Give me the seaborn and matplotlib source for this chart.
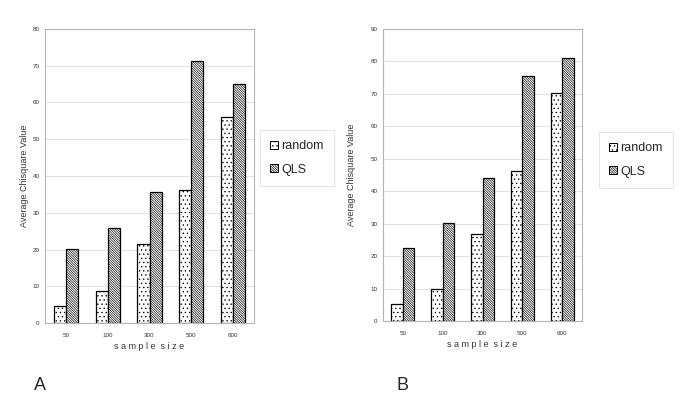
import pandas as pd
import seaborn as sns
import matplotlib
matplotlib.use("Agg")
import matplotlib.pyplot as plt
from matplotlib.patches import Patch

sample_sizes = ["50", "100", "300", "500", "600"]
series_names = ["random", "QLS"]
random_a = [4.6, 8.7, 21.5, 36.1, 56.1]
qls_a = [20.1, 25.8, 35.7, 71.2, 64.9]
random_b = [5.3, 10.0, 26.8, 46.2, 70.4]
qls_b = [22.4, 30.1, 44.1, 75.4, 81.2]

sns.set_style("white")
plt.rcParams["font.family"] = ["Liberation Sans", "DejaVu Sans"]
plt.rcParams["hatch.linewidth"] = 0.45

DOTS = "...."
LINES = "\\" * 14

fig = plt.figure(figsize=(6.85, 4.07), dpi=100)

panels = [
    ("A", random_a, qls_a, 80, [45, 29, 254, 323], [263, 133, 331, 183], 40, 29),
    ("B", random_b, qls_b, 90, [383, 29, 582, 321], [599, 130, 673, 190], 403, 356),
]
W, H = 685, 407

for letter, rnd, qls, ymax, box, leg_box, letter_x, ylab_x in panels:
    x0, y0, x1, y1 = box
    ax = fig.add_axes([x0 / W, 1 - y1 / H, (x1 - x0) / W, (y1 - y0) / H])
    df = pd.DataFrame({
        "sample size": sample_sizes * 2,
        "value": rnd + qls,
        "series": [series_names[0]] * 5 + [series_names[1]] * 5,
    })
    sns.barplot(data=df, x="sample size", y="value", hue="series",
                order=sample_sizes, hue_order=series_names,
                palette=["white", "white"], width=0.58, ax=ax,
                edgecolor="black", linewidth=0.9, legend=False, saturation=1)
    for i, bar in enumerate(ax.patches):
        bar.set_hatch(DOTS if i < 5 else LINES)
        bar.set_edgecolor("black")
    ax.set_ylim(0, ymax)
    ax.set_yticks(range(0, ymax + 1, 10))
    ax.set_xlim(-0.5, 4.5)
    ax.yaxis.grid(True, color="#e3e3e3", linewidth=0.8)
    ax.set_axisbelow(True)
    for s in ax.spines.values():
        s.set_color("#b5b5b5")
        s.set_linewidth(0.8)
    ax.tick_params(axis="both", labelsize=4.5, length=0, colors="#333333")
    ax.tick_params(axis="y", pad=4)
    ax.tick_params(axis="x", pad=7)
    ax.set_xlabel("s a m p l e  s i z e", fontsize=6.5, color="#333333", labelpad=3)
    ax.set_ylabel("Average Chisquare Value", fontsize=6.5, color="#333333")
    ax.yaxis.set_label_coords(-(x0 - ylab_x) / (x1 - x0), 0.5)

    lx0, ly0, lx1, ly1 = leg_box
    handles = [
        Patch(facecolor="white", edgecolor="black", hatch=DOTS, linewidth=0.7, label="random"),
        Patch(facecolor="white", edgecolor="black", hatch=LINES, linewidth=0.7, label="QLS"),
    ]
    leg = fig.legend(handles=handles, loc="center",
                     bbox_to_anchor=((lx0 + lx1) / 2 / W, 1 - (ly0 + ly1) / 2 / H),
                     fontsize=9, frameon=True, fancybox=False, handlelength=0.6,
                     handleheight=0.6, handletextpad=0.3, labelspacing=0.9,
                     borderpad=0.8, edgecolor="#e0e0e0")
    leg.get_frame().set_linewidth(0.8)

    fig.text(letter_x / W, 1 - 385 / H, letter, fontsize=13, ha="center", va="center")

fig.savefig("out.png", dpi=100)
